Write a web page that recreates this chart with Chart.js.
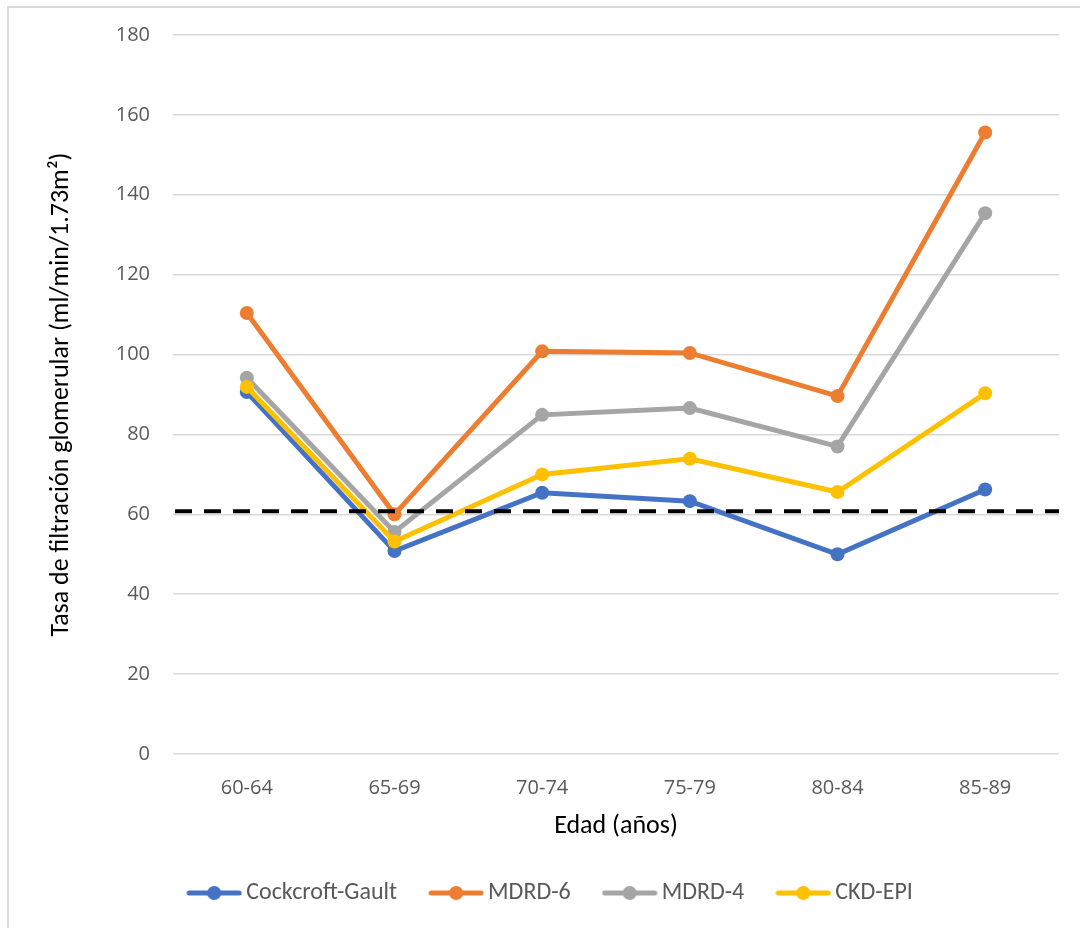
<!DOCTYPE html>
<html lang="es">
<head>
<meta charset="utf-8">
<title>Tasa de filtración glomerular por edad</title>
<script src="https://cdn.jsdelivr.net/npm/chart.js@4/dist/chart.umd.min.js"></script>
<style>
  html, body { margin: 0; padding: 0; background: #fff; overflow: hidden; }
  #marco { position: absolute; left: 7px; top: 6px; width: 1300px; height: 1300px;
           border-left: 2px solid #d9d9d9; border-top: 2px solid #d9d9d9; }
  #contenedor { position: absolute; left: 0; top: 0; width: 1080px; height: 928px; }
</style>
</head>
<body>
<div id="marco"></div>
<div id="contenedor"><canvas id="tfgChart"></canvas></div>
<script>
// datos
const edades = ['60-64', '65-69', '70-74', '75-79', '80-84', '85-89'];
const cockcroftGault = [90.6, 50.8, 65.4, 63.3, 50.0, 66.2];
const mdrd6 = [110.4, 60.0, 100.8, 100.4, 89.6, 155.6];
const mdrd4 = [94.2, 55.6, 84.9, 86.6, 77.0, 135.4];
const ckdEpi = [91.9, 53.2, 70.0, 73.9, 65.6, 90.3];
const umbral = 60.8;   // línea discontinua
const ejeYMin = 0;
const ejeYMax = 180;
const ejeYPaso = 20;

const colores = {
    cg: '#4472C4',
    m6: '#ED7D31',
    m4: '#A5A5A5',
    ckd: '#FFC000'
};

const fuenteTexto = 'Carlito, Lato, sans-serif';
const fuenteTicks = '"Open Sans", sans-serif';

// marcador de leyenda: línea con círculo (estilo Excel)
function marcadorLeyenda(color) {
    const c = document.createElement('canvas');
    c.width = 56;
    c.height = 16;
    const g = c.getContext('2d');
    g.strokeStyle = color;
    g.lineWidth = 5;
    g.lineCap = 'round';
    g.beginPath();
    g.moveTo(3, 8);
    g.lineTo(53, 8);
    g.stroke();
    g.fillStyle = color;
    g.beginPath();
    g.arc(28, 8, 7, 0, Math.PI * 2);
    g.fill();
    return c;
}

function serie(label, data, color, orden) {
    return {
        label: label,
        data: data,
        borderColor: color,
        backgroundColor: color,
        pointBackgroundColor: color,
        pointBorderColor: color,
        borderWidth: 5,
        pointRadius: 7,
        pointBorderWidth: 0,
        pointHoverRadius: 7,
        tension: 0,
        order: orden,
        marcador: marcadorLeyenda(color)
    };
}

// línea horizontal discontinua en el umbral
const lineaUmbral = {
    id: 'lineaUmbral',
    afterDatasetsDraw(chart) {
        const {ctx, chartArea, scales} = chart;
        const y = scales.y.getPixelForValue(umbral);
        ctx.save();
        ctx.strokeStyle = '#000';
        ctx.lineWidth = 4;
        ctx.setLineDash([17, 12]);
        ctx.beginPath();
        ctx.moveTo(chartArea.left + 2, y);
        ctx.lineTo(chartArea.right, y);
        ctx.stroke();
        ctx.restore();
    }
};

const ctx = document.getElementById('tfgChart').getContext('2d');
new Chart(ctx, {
    type: 'line',
    data: {
        labels: edades,
        datasets: [
            serie('Cockcroft-Gault', cockcroftGault, colores.cg, 3),
            serie('MDRD-6', mdrd6, colores.m6, 2),
            serie('MDRD-4', mdrd4, colores.m4, 1),
            serie('CKD-EPI', ckdEpi, colores.ckd, 0)
        ]
    },
    options: {
        responsive: true,
        maintainAspectRatio: false,
        animation: false,
        layout: {
            padding: { top: 34, right: 21, bottom: 13, left: 48 }
        },
        plugins: {
            legend: {
                position: 'bottom',
                labels: {
                    usePointStyle: true,
                    pointStyleWidth: 40,
                    padding: 39,
                    color: '#595959',
                    font: { family: fuenteTexto, size: 24 },
                    generateLabels: (chart) => {
                        const items = Chart.defaults.plugins.legend.labels.generateLabels(chart);
                        items.sort((a, b) => a.datasetIndex - b.datasetIndex);
                        items.forEach(it => {
                            it.pointStyle = chart.data.datasets[it.datasetIndex].marcador;
                        });
                        return items;
                    }
                }
            },
            tooltip: { enabled: false }
        },
        scales: {
            x: {
                offset: true,
                grid: { display: false, drawTicks: false },
                border: { display: false },
                ticks: {
                    padding: 22,
                    color: '#595959',
                    font: { family: fuenteTicks, size: 20 }
                },
                title: {
                    display: true,
                    text: 'Edad (años)',
                    color: '#000',
                    font: { family: fuenteTexto, size: 26 },
                    padding: { top: 0, bottom: 0 }
                },
                afterFit: (scale) => { scale.height = 88; }
            },
            y: {
                min: ejeYMin,
                max: ejeYMax,
                grid: { color: '#d9d9d9', lineWidth: 1.5, drawTicks: false },
                border: { display: false },
                ticks: {
                    stepSize: ejeYPaso,
                    padding: 23,
                    color: '#595959',
                    font: { family: fuenteTicks, size: 20 }
                },
                title: {
                    display: true,
                    text: 'Tasa de filtración glomerular (ml/min/1.73m²)',
                    color: '#000',
                    font: { family: fuenteTexto, size: 26 },
                    padding: { top: -2, bottom: 0 }
                },
                afterFit: (scale) => { scale.width = 125; }
            }
        }
    },
    plugins: [lineaUmbral]
});
</script>
</body>
</html>
